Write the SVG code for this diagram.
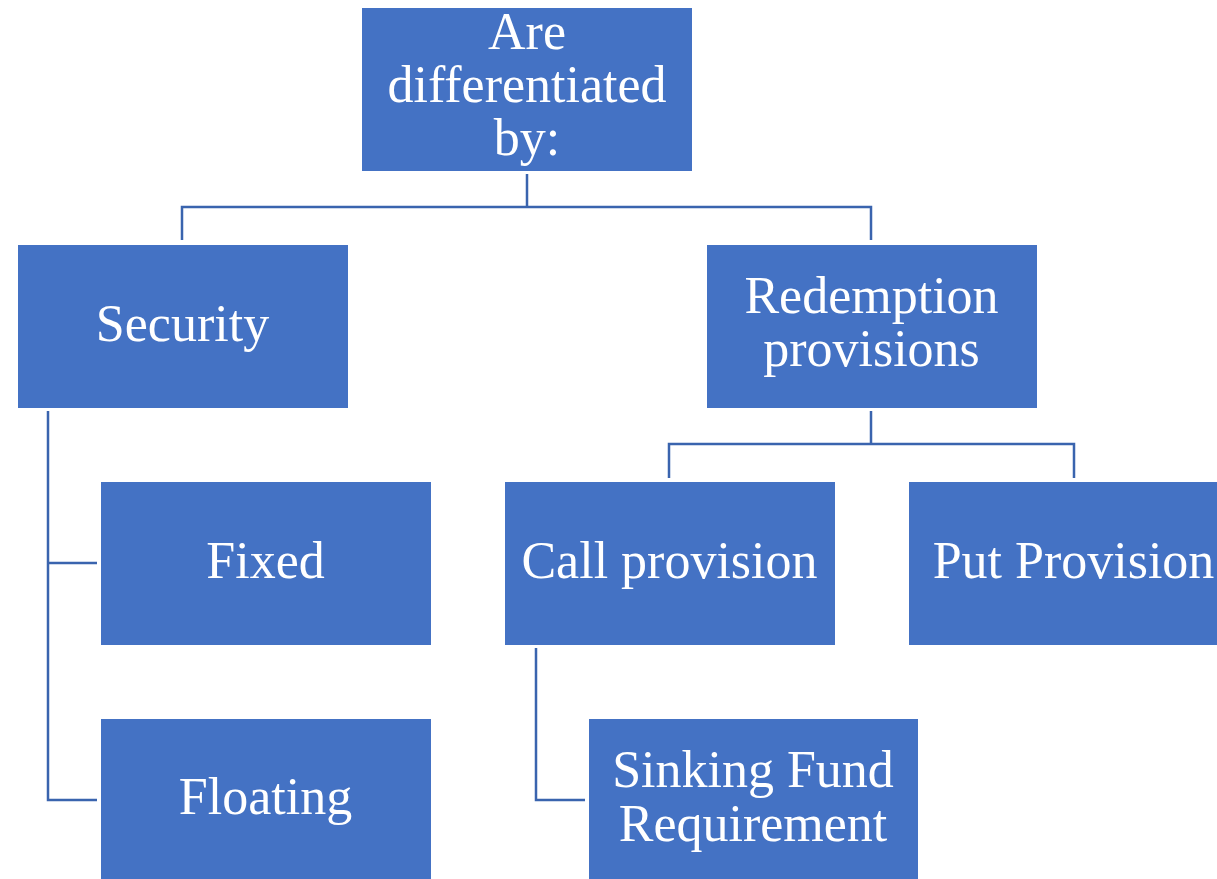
<svg xmlns="http://www.w3.org/2000/svg" width="1217" height="879" viewBox="0 0 1217 879">
<style>
.box{fill:#4472C4;stroke:#FFFFFF;stroke-width:1}
.lbl{font-family:"Liberation Serif","DejaVu Serif",serif;font-size:52px;fill:#FFFFFF;text-anchor:middle}
.con{fill:none;stroke:#3A64AE;stroke-width:2.5}
</style>
<rect width="1217" height="879" fill="#FFFFFF"/>
<g id="connectors">
<path class="con" d="M527 174 V207 M182 240 V207 H871 V240"/>
<path class="con" d="M871 411 V444 M669 478 V444 H1074 V478"/>
<path class="con" d="M48 411 V800 H97 M48 563 H97"/>
<path class="con" d="M536 648 V800 H585"/>
</g>
<g id="node-root">
<rect class="box" x="361.5" y="7.5" width="331" height="164"/>
<text class="lbl"><tspan x="527" y="49">Are</tspan><tspan x="527" y="102">differentiated</tspan><tspan x="527" y="155">by:</tspan></text>
</g>
<g id="node-security">
<rect class="box" x="17.5" y="244.5" width="331" height="164"/>
<text class="lbl" x="182.5" y="341">Security</text>
</g>
<g id="node-redemption">
<rect class="box" x="706.5" y="244.5" width="331" height="164"/>
<text class="lbl"><tspan x="871.5" y="313">Redemption</tspan><tspan x="871.5" y="366">provisions</tspan></text>
</g>
<g id="node-fixed">
<rect class="box" x="100.5" y="481.5" width="331" height="164"/>
<text class="lbl" x="265.5" y="578">Fixed</text>
</g>
<g id="node-call">
<rect class="box" x="504.5" y="481.5" width="331" height="164"/>
<text class="lbl" x="669.5" y="578">Call provision</text>
</g>
<g id="node-put">
<rect class="box" x="908.5" y="481.5" width="331" height="164"/>
<text class="lbl" x="1073.5" y="578">Put Provision</text>
</g>
<g id="node-floating">
<rect class="box" x="100.5" y="718.5" width="331" height="164"/>
<text class="lbl" x="265.5" y="814">Floating</text>
</g>
<g id="node-sinking">
<rect class="box" x="588.5" y="718.5" width="330" height="164"/>
<text class="lbl"><tspan x="753" y="787">Sinking Fund</tspan><tspan x="753" y="841">Requirement</tspan></text>
</g>
</svg>
